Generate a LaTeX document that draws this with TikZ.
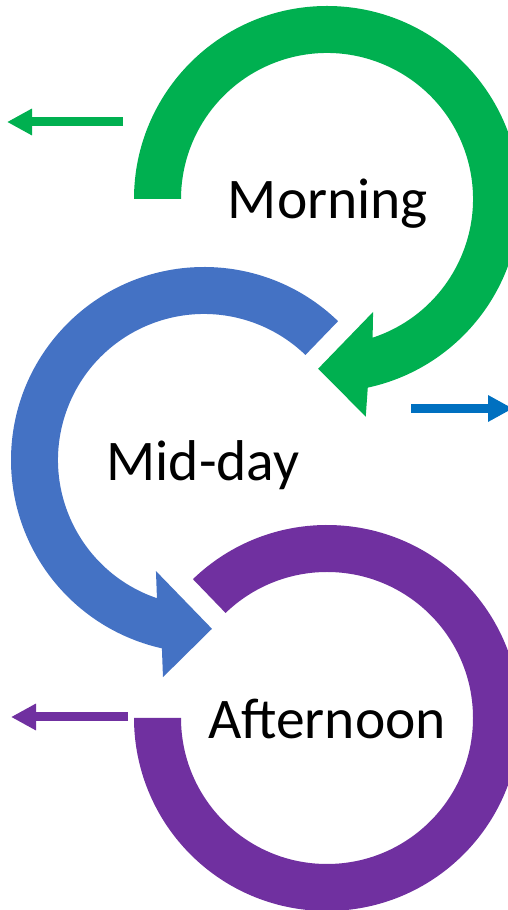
\documentclass[tikz,border=0pt]{standalone}
\usepackage{fontspec}
\setmainfont{Carlito}
\usetikzlibrary{arrows.meta}
\definecolor{morninggreen}{HTML}{00B050}
\definecolor{middayblue}{HTML}{4472C4}
\definecolor{arrowblue}{HTML}{0070C0}
\definecolor{noonpurple}{HTML}{7030A0}
\tikzset{
  daytext/.style={inner sep=0pt,anchor=base,font=\fontsize{57.5}{60}\selectfont},
  sidearrow/.style={line width=9pt,-{Triangle[length=25pt,width=25pt]}}
}
\begin{document}
\begin{tikzpicture}[x=1pt,y=1pt]
\useasboundingbox (0,0) rectangle (508,910);
% morning
\begin{scope}[shift={(327,711)}]
\fill[morninggreen] (180:193) arc[start angle=180,end angle=-77.8,radius=193]
  -- (-79.9:221) -- (-93:170) -- (-67.8:122) -- (-71.8:146)
  arc[start angle=-71.8,end angle=180,radius=146] -- cycle;
\end{scope}
% mid-day
\begin{scope}[shift={(204,450)}]
\fill[middayblue] (46:193) arc[start angle=46,end angle=257.4,radius=193]
  -- (259.3:221) -- (272.7:169) -- (246.6:121) -- (251.2:146)
  arc[start angle=251.2,end angle=46,radius=146] -- cycle;
\end{scope}
% afternoon
\begin{scope}[shift={(327,192)}]
\fill[noonpurple] (134:193) arc[start angle=134,end angle=-180,radius=193]
  -- (180:146) arc[start angle=-180,end angle=134,radius=146] -- cycle;
\end{scope}
\node[daytext] (morning) at (328,691) {Morning};
\node[daytext] (midday) at (203,429) {Mid-day};
\node[daytext] (afternoon) at (327,171) {Afternoon};
\coordinate (gs) at (123,788);
\coordinate (ge) at (7,788);
\coordinate (bs) at (411,501.5);
\coordinate (be) at (513,501.5);
\coordinate (ps) at (128,193);
\coordinate (pe) at (11,193);
\draw[sidearrow,morninggreen] (gs)--(ge);
\draw[sidearrow,arrowblue] (bs)--(be);
\draw[sidearrow,noonpurple] (ps)--(pe);
\end{tikzpicture}
\end{document}
